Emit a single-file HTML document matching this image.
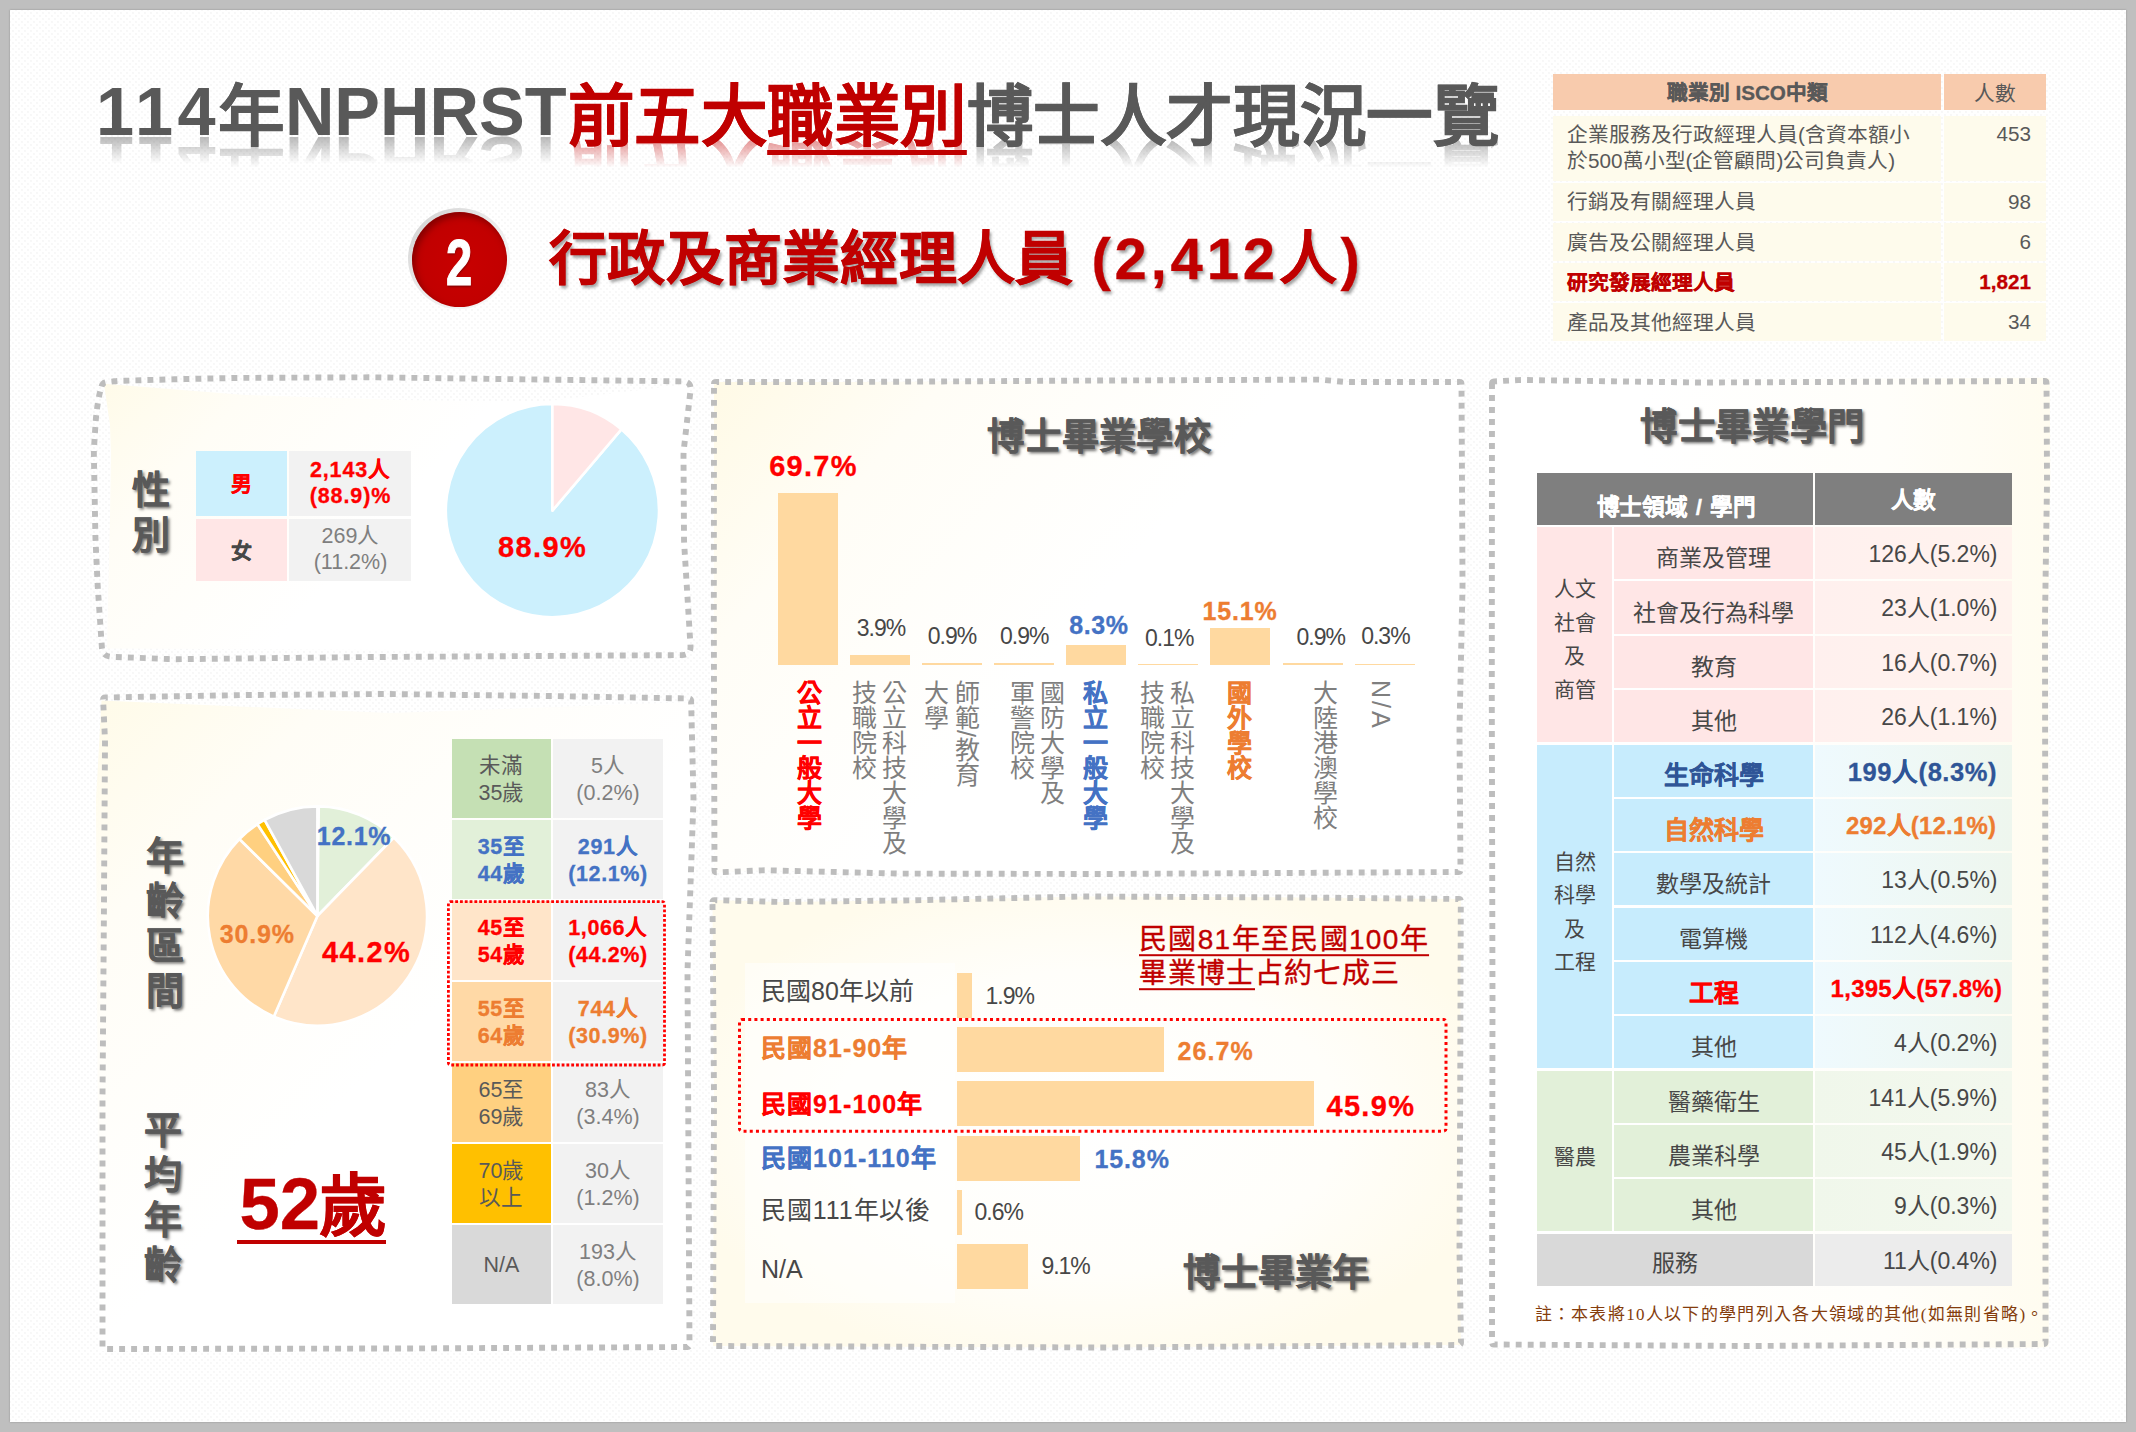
<!DOCTYPE html>
<html lang="zh-TW"><head><meta charset="utf-8"><title>114年NPHRST前五大職業別博士人才現況一覽</title>
<style>
html,body{margin:0;padding:0;}
body{width:2136px;height:1432px;overflow:hidden;background:#bfbfbf;font-family:"Liberation Sans",sans-serif;position:relative;}
#page{position:absolute;left:10px;top:10px;width:2116px;height:1412px;background-color:#fff;
 background-image:radial-gradient(#efefef 0.55px,rgba(255,255,255,0) 0.85px),radial-gradient(#efefef 0.55px,rgba(255,255,255,0) 0.85px);
 background-size:6px 6px;background-position:0 0,3px 3px;box-shadow:0 0 2px rgba(0,0,0,.25);}
#c{position:absolute;left:0;top:0;width:2136px;height:1432px;}
.t{position:absolute;white-space:nowrap;line-height:1.2;text-align:center;}
.r{position:absolute;}
.sh{text-shadow:2px 2px 3px rgba(0,0,0,.55);}
.b{font-weight:bold;}
svg{position:absolute;left:0;top:0;overflow:visible;}
.v{position:absolute;writing-mode:vertical-rl;white-space:nowrap;font-size:25px;line-height:30.2px;color:#7f7f7f;}
.tl{display:inline-block;position:relative;top:-2.3px;font-size:68.5px;line-height:48.5px;-webkit-box-reflect:below 0px linear-gradient(rgba(0,0,0,0) 42%,rgba(0,0,0,.45));}
.tc{display:inline-block;position:relative;top:2.9px;font-size:66.6px;line-height:46px;letter-spacing:-0.45px;-webkit-text-stroke:0.35px currentColor;-webkit-box-reflect:below 0px linear-gradient(rgba(0,0,0,0) 40%,rgba(0,0,0,.42));}
</style></head><body><div id="page"></div><div id="c">
<div id="title" style="position:absolute;left:96px;top:72px;white-space:nowrap;font-weight:bold;color:#595959;font-size:66px;line-height:84px;"><span class="tl" style="letter-spacing:4.6px;">114</span><span class="tc" style="margin-left:-2.5px;">年</span><span class="tl" style="letter-spacing:0px;margin-left:0.5px;">NPHRST</span><span class="tc" style="color:#c00000;margin-left:1px;">前五大<span style="text-decoration:underline;text-decoration-thickness:4.5px;text-underline-offset:10px;">職業別</span></span><span class="tc" style="margin-left:0px;">博士人才現況一覽</span></div><div class="r" style="left:408px;top:208px;width:102px;height:101px;border-radius:50%;background:linear-gradient(135deg,#cfcfcf,#ececec 50%,#fafafa);"></div><div class="r" style="left:411.6px;top:211.6px;width:95.6px;height:95.6px;border-radius:50%;background:radial-gradient(circle at 55% 55%,#c80000 0%,#c00000 70%,#a80000 100%);box-shadow:inset 3px 4px 6px rgba(90,0,0,.55);"></div><div class="t " style="left:459.4px;top:262.8px;font-size:65.5px;color:#fff;font-weight:bold;transform:translate(-50%,-50%);-webkit-text-stroke:1.2px #fff;transform:translate(-50%,-50%) scaleX(.72);text-shadow:1px 2px 2px rgba(80,0,0,.5);">2</div><div class="t " style="left:549px;top:258.5px;font-size:58px;color:#c00000;font-weight:bold;transform:translate(0,-50%);text-shadow:2px 3px 3px rgba(0,0,0,.35);letter-spacing:0.3px;-webkit-text-stroke:0.5px currentColor;">行政及商業經理人員</div><div class="t " style="left:1091.5px;top:258.5px;font-size:58px;color:#c00000;font-weight:bold;transform:translate(0,-50%);text-shadow:2px 3px 3px rgba(0,0,0,.35);letter-spacing:3.8px;-webkit-text-stroke:.3px currentColor;">(2,412人)</div><div class="r" style="left:1553.40px;top:74.00px;width:387.80px;height:36.00px;background:#f8cbad;"></div><div class="r" style="left:1943.80px;top:74.00px;width:102.00px;height:36.00px;background:#f8cbad;"></div><div class="t " style="left:1747.3000000000002px;top:93px;font-size:20.7px;color:#595959;font-weight:bold;transform:translate(-50%,-50%);-webkit-text-stroke:.3px currentColor;">職業別 ISCO中類</div><div class="t " style="left:1994.8px;top:94px;font-size:20.7px;color:#595959;font-weight:normal;transform:translate(-50%,-50%);">人數</div><div class="r" style="left:1553.40px;top:116.00px;width:387.80px;height:64.50px;background:#fefbec;"></div><div class="r" style="left:1943.80px;top:116.00px;width:102.00px;height:64.50px;background:#fefbec;"></div><div class="t " style="left:1567px;top:147.5px;font-size:20.7px;color:#595959;font-weight:normal;transform:translate(0,-50%);text-align:left;line-height:26px;">企業服務及行政經理人員(含資本額小<br>於500萬小型(企管顧問)公司負責人)</div><div class="t " style="left:2031px;top:134px;font-size:20.7px;color:#595959;font-weight:normal;transform:translate(-100%,-50%);">453</div><div class="r" style="left:1553.40px;top:183.10px;width:387.80px;height:37.60px;background:#fefbec;"></div><div class="r" style="left:1943.80px;top:183.10px;width:102.00px;height:37.60px;background:#fefbec;"></div><div class="t " style="left:1567px;top:202.4px;font-size:20.7px;color:#595959;font-weight:normal;transform:translate(0,-50%);">行銷及有關經理人員</div><div class="t " style="left:2031px;top:201.9px;font-size:20.7px;color:#595959;font-weight:normal;transform:translate(-100%,-50%);">98</div><div class="r" style="left:1553.40px;top:223.20px;width:387.80px;height:37.60px;background:#fefbec;"></div><div class="r" style="left:1943.80px;top:223.20px;width:102.00px;height:37.60px;background:#fefbec;"></div><div class="t " style="left:1567px;top:242.5px;font-size:20.7px;color:#595959;font-weight:normal;transform:translate(0,-50%);">廣告及公關經理人員</div><div class="t " style="left:2031px;top:242.0px;font-size:20.7px;color:#595959;font-weight:normal;transform:translate(-100%,-50%);">6</div><div class="r" style="left:1553.40px;top:263.30px;width:387.80px;height:37.60px;background:#fefbec;"></div><div class="r" style="left:1943.80px;top:263.30px;width:102.00px;height:37.60px;background:#fefbec;"></div><div class="t " style="left:1567px;top:282.6px;font-size:20.7px;color:#c00000;font-weight:bold;transform:translate(0,-50%);-webkit-text-stroke:.3px currentColor;">研究發展經理人員</div><div class="t " style="left:2031px;top:282.1px;font-size:20.7px;color:#c00000;font-weight:bold;transform:translate(-100%,-50%);-webkit-text-stroke:.3px currentColor;">1,821</div><div class="r" style="left:1553.40px;top:303.40px;width:387.80px;height:37.40px;background:#fefbec;"></div><div class="r" style="left:1943.80px;top:303.40px;width:102.00px;height:37.40px;background:#fefbec;"></div><div class="t " style="left:1567px;top:322.59999999999997px;font-size:20.7px;color:#595959;font-weight:normal;transform:translate(0,-50%);">產品及其他經理人員</div><div class="t " style="left:2031px;top:322.09999999999997px;font-size:20.7px;color:#595959;font-weight:normal;transform:translate(-100%,-50%);">34</div><svg width="2136" height="1432" viewBox="0 0 2136 1432"><defs>
<linearGradient id="g1" gradientUnits="userSpaceOnUse" x1="100" y1="385" x2="380" y2="640"><stop offset="0" stop-color="#fffbe9"/><stop offset=".3" stop-color="#fffdf6"/><stop offset=".8" stop-color="#ffffff"/></linearGradient>
<linearGradient id="g2" gradientUnits="userSpaceOnUse" x1="100" y1="700" x2="480" y2="1080"><stop offset="0" stop-color="#fffbe9"/><stop offset=".3" stop-color="#fffdf6"/><stop offset=".85" stop-color="#ffffff"/></linearGradient>
<linearGradient id="g3" gradientUnits="userSpaceOnUse" x1="715" y1="385" x2="1150" y2="760"><stop offset="0" stop-color="#fffae6"/><stop offset=".3" stop-color="#fffdf6"/><stop offset=".75" stop-color="#ffffff"/></linearGradient>
<radialGradient id="g4" gradientUnits="userSpaceOnUse" cx="1087" cy="1122" r="420" gradientTransform="translate(1087 1122) scale(1 .6) translate(-1087 -1122)"><stop offset="0" stop-color="#ffffff"/><stop offset=".6" stop-color="#fffefa"/><stop offset="1" stop-color="#fffbec"/></radialGradient>
<linearGradient id="g5" gradientUnits="userSpaceOnUse" x1="1640" y1="860" x2="2048" y2="860"><stop offset="0" stop-color="#ffffff"/><stop offset=".6" stop-color="#fffefa"/><stop offset="1" stop-color="#fffcf0"/></linearGradient>
</defs><path d="M104.0,383.7L245.0,395.0L400.0,400.0L540.0,402.0L690.0,384.0L690.0,650.0L400.0,650.0L107.0,648.5L110.0,517.0L111.0,454.0L110.0,425.0Z" fill="url(#g1)"/><path d="M101.5,700.5L390.0,713.0L692.0,702.0L692.0,1350.0L99.0,1351.0L96.0,800.0Z" fill="url(#g2)"/><path d="M714.0,382.0L850.0,382.0L1065.0,380.7L1320.0,379.6L1345.0,382.0L1461.5,382.0L1462.5,585.0L1459.5,730.0L1460.5,872.0L1100.0,874.0L900.0,873.6L764.0,870.3L714.5,872.5L713.8,620.0Z" fill="url(#g3)"/><path d="M712.5,900.0L780.0,902.0L900.0,900.5L1085.0,896.5L1300.0,897.5L1460.8,899.0L1460.2,1100.0L1459.5,1250.0L1461.0,1345.0L1100.0,1347.5L713.0,1346.0L714.0,1100.0Z" fill="url(#g4)"/><path d="M1492.0,381.5L1520.0,380.0L1700.0,382.5L2046.5,381.0L2047.0,480.0L2045.0,620.0L2045.4,985.0L2045.5,1344.0L1750.0,1346.0L1492.0,1344.5L1492.5,1000.0L1491.8,700.0Z" fill="url(#g5)" stroke="url(#g5)" stroke-width="6.6" stroke-linejoin="round"/><path d="M101.5,386.4Q102.5,382.5 106.5,382.1L114.0,381.3Q118.0,380.9 122.0,380.8L174.0,379.3Q178.0,379.2 182.0,379.1L234.0,378.0Q238.0,377.9 242.0,377.9L371.0,377.3Q375.0,377.3 379.0,377.4L682.5,381.4Q691.5,381.5 690.5,390.4L684.0,448.0Q683.5,452.0 683.5,456.0L684.0,536.0Q684.0,540.0 684.2,544.0L690.5,646.0Q691.0,655.0 682.0,655.1L379.0,657.0Q375.0,657.0 371.0,657.0L176.0,659.2Q172.0,659.2 168.0,659.0L111.5,656.8Q102.5,656.5 101.9,647.5L98.1,592.0Q97.8,588.0 97.6,584.0L95.7,544.0Q95.5,540.0 95.4,536.0L93.9,456.0Q93.8,452.0 94.0,448.0L95.5,424.6Q95.7,420.6 96.1,416.6L96.6,412.6Q97.0,408.6 97.6,404.6L98.3,400.4Q98.9,396.4 99.9,392.5Z" fill="none" stroke="#bdbdbd" stroke-width="5.9" stroke-dasharray="5.9 6.1"/><path d="M103.1,699.5Q103.0,697.5 105.0,697.5L248.0,695.0Q250.0,695.0 252.0,695.0L383.0,694.0Q385.0,694.0 387.0,694.0L548.0,696.0Q550.0,696.0 552.0,696.0L689.0,698.5Q691.0,698.5 691.1,700.5L691.4,713.0Q691.5,715.0 691.5,717.0L693.5,798.0Q693.5,800.0 693.4,802.0L687.6,968.0Q687.5,970.0 687.5,972.0L689.5,1345.0Q689.5,1347.0 687.5,1347.0L402.0,1348.5Q400.0,1348.5 398.0,1348.5L104.5,1349.0Q102.5,1349.0 102.5,1347.0L102.5,1102.0Q102.5,1100.0 102.5,1098.0L104.0,902.0Q104.0,900.0 104.0,898.0L105.0,742.0Q105.0,740.0 104.9,738.0Z" fill="none" stroke="#bdbdbd" stroke-width="5.9" stroke-dasharray="5.9 6.1"/><path d="M714.0,384.0Q714.0,382.0 716.0,382.0L848.0,382.0Q850.0,382.0 852.0,382.0L1063.0,380.7Q1065.0,380.7 1067.0,380.7L1318.0,379.6Q1320.0,379.6 1322.0,379.8L1343.0,381.8Q1345.0,382.0 1347.0,382.0L1459.5,382.0Q1461.5,382.0 1461.5,384.0L1462.5,583.0Q1462.5,585.0 1462.5,587.0L1459.5,728.0Q1459.5,730.0 1459.5,732.0L1460.5,870.0Q1460.5,872.0 1458.5,872.0L1102.0,874.0Q1100.0,874.0 1098.0,874.0L902.0,873.6Q900.0,873.6 898.0,873.6L766.0,870.3Q764.0,870.3 762.0,870.4L716.5,872.4Q714.5,872.5 714.5,870.5L713.8,622.0Q713.8,620.0 713.8,618.0Z" fill="none" stroke="#bdbdbd" stroke-width="5.9" stroke-dasharray="5.9 6.1"/><path d="M712.5,902.0Q712.5,900.0 714.5,900.1L778.0,901.9Q780.0,902.0 782.0,902.0L898.0,900.5Q900.0,900.5 902.0,900.5L1083.0,896.5Q1085.0,896.5 1087.0,896.5L1298.0,897.5Q1300.0,897.5 1302.0,897.5L1458.8,899.0Q1460.8,899.0 1460.8,901.0L1460.2,1098.0Q1460.2,1100.0 1460.2,1102.0L1459.5,1248.0Q1459.5,1250.0 1459.5,1252.0L1461.0,1343.0Q1461.0,1345.0 1459.0,1345.0L1102.0,1347.5Q1100.0,1347.5 1098.0,1347.5L715.0,1346.0Q713.0,1346.0 713.0,1344.0L714.0,1102.0Q714.0,1100.0 714.0,1098.0Z" fill="none" stroke="#bdbdbd" stroke-width="5.9" stroke-dasharray="5.9 6.1"/><path d="M1492.0,383.5Q1492.0,381.5 1494.0,381.4L1518.0,380.1Q1520.0,380.0 1522.0,380.0L1698.0,382.5Q1700.0,382.5 1702.0,382.5L2044.5,381.0Q2046.5,381.0 2046.5,383.0L2047.0,478.0Q2047.0,480.0 2047.0,482.0L2045.0,618.0Q2045.0,620.0 2045.0,622.0L2045.4,983.0Q2045.4,985.0 2045.4,987.0L2045.5,1342.0Q2045.5,1344.0 2043.5,1344.0L1752.0,1346.0Q1750.0,1346.0 1748.0,1346.0L1494.0,1344.5Q1492.0,1344.5 1492.0,1342.5L1492.5,1002.0Q1492.5,1000.0 1492.5,998.0L1491.8,702.0Q1491.8,700.0 1491.8,698.0Z" fill="none" stroke="#bdbdbd" stroke-width="5.9" stroke-dasharray="5.9 6.1"/><path d="M552.40,510.60L621.38,429.32A106.6,106.6 0 1 1 552.40,404.00Z" fill="#ccf0fd" stroke="#fff" stroke-width="2.6" stroke-linejoin="round"/><path d="M552.40,510.60L552.40,404.00A106.6,106.6 0 0 1 621.38,429.32Z" fill="#ffe6e6" stroke="#fff" stroke-width="2.6" stroke-linejoin="round"/><path d="M317.40,916.00L317.40,806.40A109.6,109.6 0 0 1 318.78,806.41Z" fill="#c5e0b4" stroke="#fff" stroke-width="2.6" stroke-linejoin="round"/><path d="M317.40,916.00L318.78,806.41A109.6,109.6 0 0 1 393.92,837.53Z" fill="#e2f0d9" stroke="#fff" stroke-width="2.6" stroke-linejoin="round"/><path d="M317.40,916.00L393.92,837.53A109.6,109.6 0 0 1 273.87,1016.59Z" fill="#ffe5c9" stroke="#fff" stroke-width="2.6" stroke-linejoin="round"/><path d="M317.40,916.00L273.87,1016.59A109.6,109.6 0 0 1 239.42,838.99Z" fill="#ffd9a6" stroke="#fff" stroke-width="2.6" stroke-linejoin="round"/><path d="M317.40,916.00L239.42,838.99A109.6,109.6 0 0 1 257.52,824.21Z" fill="#ffd080" stroke="#fff" stroke-width="2.6" stroke-linejoin="round"/><path d="M317.40,916.00L257.52,824.21A109.6,109.6 0 0 1 264.60,819.96Z" fill="#ffc000" stroke="#fff" stroke-width="2.6" stroke-linejoin="round"/><path d="M317.40,916.00L264.60,819.96A109.6,109.6 0 0 1 317.40,806.40Z" fill="#d9d9d9" stroke="#fff" stroke-width="2.6" stroke-linejoin="round"/></svg><div class="t sh" style="left:151px;top:491px;font-size:38px;color:#595959;font-weight:bold;transform:translate(-50%,-50%);-webkit-text-stroke:.3px currentColor;">性</div><div class="t sh" style="left:151px;top:536px;font-size:38px;color:#595959;font-weight:bold;transform:translate(-50%,-50%);-webkit-text-stroke:.3px currentColor;">別</div><div class="r" style="left:196.00px;top:451.00px;width:91.00px;height:65.00px;background:#ccf0fd;"></div><div class="r" style="left:289.30px;top:451.00px;width:122.00px;height:65.00px;background:#f2f2f2;"></div><div class="r" style="left:196.00px;top:518.80px;width:91.00px;height:62.40px;background:#ffe6e6;"></div><div class="r" style="left:289.30px;top:518.80px;width:122.00px;height:62.40px;background:#f2f2f2;"></div><div class="t " style="left:241.5px;top:484px;font-size:21px;color:#ff0000;font-weight:bold;transform:translate(-50%,-50%);-webkit-text-stroke:.3px currentColor;">男</div><div class="t " style="left:241.5px;top:550.5px;font-size:21px;color:#474747;font-weight:bold;transform:translate(-50%,-50%);-webkit-text-stroke:.3px currentColor;">女</div><div class="t " style="left:350.5px;top:484px;font-size:21.5px;color:#ff0000;font-weight:bold;transform:translate(-50%,-50%);line-height:25.8px;letter-spacing:.9px;-webkit-text-stroke:.3px currentColor;">2,143人<br>(88.9)%</div><div class="t " style="left:350.5px;top:550px;font-size:21.5px;color:#7f7f7f;font-weight:normal;transform:translate(-50%,-50%);line-height:25.8px;">269人<br>(11.2%)</div><div class="t " style="left:542.5px;top:546.5px;font-size:29px;color:#ff0000;font-weight:bold;transform:translate(-50%,-50%);letter-spacing:1.4px;-webkit-text-stroke:.3px currentColor;">88.9%</div><div class="t sh" style="left:164.5px;top:857px;font-size:38px;color:#595959;font-weight:bold;transform:translate(-50%,-50%);-webkit-text-stroke:.3px currentColor;">年</div><div class="t sh" style="left:164.5px;top:902px;font-size:38px;color:#595959;font-weight:bold;transform:translate(-50%,-50%);-webkit-text-stroke:.3px currentColor;">齡</div><div class="t sh" style="left:164.5px;top:947px;font-size:38px;color:#595959;font-weight:bold;transform:translate(-50%,-50%);-webkit-text-stroke:.3px currentColor;">區</div><div class="t sh" style="left:164.5px;top:992px;font-size:38px;color:#595959;font-weight:bold;transform:translate(-50%,-50%);-webkit-text-stroke:.3px currentColor;">間</div><div class="t sh" style="left:162.5px;top:1130.5px;font-size:38px;color:#595959;font-weight:bold;transform:translate(-50%,-50%);-webkit-text-stroke:.3px currentColor;">平</div><div class="t sh" style="left:162.5px;top:1175.5px;font-size:38px;color:#595959;font-weight:bold;transform:translate(-50%,-50%);-webkit-text-stroke:.3px currentColor;">均</div><div class="t sh" style="left:162.5px;top:1220.5px;font-size:38px;color:#595959;font-weight:bold;transform:translate(-50%,-50%);-webkit-text-stroke:.3px currentColor;">年</div><div class="t sh" style="left:162.5px;top:1265.5px;font-size:38px;color:#595959;font-weight:bold;transform:translate(-50%,-50%);-webkit-text-stroke:.3px currentColor;">齡</div><div class="t " style="left:354px;top:836px;font-size:25px;color:#4472c4;font-weight:bold;transform:translate(-50%,-50%);letter-spacing:.7px;-webkit-text-stroke:.3px currentColor;">12.1%</div><div class="t " style="left:366.5px;top:952px;font-size:29px;color:#ff0000;font-weight:bold;transform:translate(-50%,-50%);letter-spacing:1.4px;-webkit-text-stroke:.3px currentColor;">44.2%</div><div class="t " style="left:257.3px;top:933.5px;font-size:25px;color:#ed7d31;font-weight:bold;transform:translate(-50%,-50%);letter-spacing:.8px;-webkit-text-stroke:.3px currentColor;">30.9%</div><div class="t " style="left:239.5px;top:1203.6px;font-size:72.5px;color:#c00000;font-weight:bold;transform:translate(0,-50%);line-height:80px;-webkit-text-stroke:.3px currentColor;">52<span style="font-size:68px;position:relative;top:1.5px;margin-left:-1px;">歲</span></div><div class="r" style="left:237.00px;top:1240.00px;width:149.30px;height:4.00px;background:#c00000;"></div><div class="r" style="left:452.00px;top:739.40px;width:99.00px;height:78.80px;background:#c5e0b4;"></div><div class="r" style="left:552.80px;top:739.40px;width:110.20px;height:78.80px;background:#f2f2f2;"></div><div class="t " style="left:501.5px;top:779.4px;font-size:21.5px;color:#595959;font-weight:normal;transform:translate(-50%,-50%);line-height:26.2px;">未滿<br>35歲</div><div class="t " style="left:608px;top:779.4px;font-size:21.5px;color:#7f7f7f;font-weight:normal;transform:translate(-50%,-50%);line-height:26.2px;">5人<br>(0.2%)</div><div class="r" style="left:452.00px;top:820.40px;width:99.00px;height:78.80px;background:#e2f0d9;"></div><div class="r" style="left:552.80px;top:820.40px;width:110.20px;height:78.80px;background:#f2f2f2;"></div><div class="t " style="left:501.5px;top:860.4px;font-size:21.5px;color:#4472c4;font-weight:bold;transform:translate(-50%,-50%);line-height:26.2px;letter-spacing:.6px;-webkit-text-stroke:.3px currentColor;">35至<br>44歲</div><div class="t " style="left:608px;top:860.4px;font-size:21.5px;color:#4472c4;font-weight:bold;transform:translate(-50%,-50%);line-height:26.2px;letter-spacing:.6px;-webkit-text-stroke:.3px currentColor;">291人<br>(12.1%)</div><div class="r" style="left:452.00px;top:901.40px;width:99.00px;height:78.80px;background:#ffe5c9;"></div><div class="r" style="left:552.80px;top:901.40px;width:110.20px;height:78.80px;background:#f2f2f2;"></div><div class="t " style="left:501.5px;top:941.4px;font-size:21.5px;color:#ff0000;font-weight:bold;transform:translate(-50%,-50%);line-height:26.2px;letter-spacing:.6px;-webkit-text-stroke:.3px currentColor;">45至<br>54歲</div><div class="t " style="left:608px;top:941.4px;font-size:21.5px;color:#ff0000;font-weight:bold;transform:translate(-50%,-50%);line-height:26.2px;letter-spacing:.6px;-webkit-text-stroke:.3px currentColor;">1,066人<br>(44.2%)</div><div class="r" style="left:452.00px;top:982.40px;width:99.00px;height:78.80px;background:#ffd9a6;"></div><div class="r" style="left:552.80px;top:982.40px;width:110.20px;height:78.80px;background:#f2f2f2;"></div><div class="t " style="left:501.5px;top:1022.4px;font-size:21.5px;color:#ed7d31;font-weight:bold;transform:translate(-50%,-50%);line-height:26.2px;letter-spacing:.6px;-webkit-text-stroke:.3px currentColor;">55至<br>64歲</div><div class="t " style="left:608px;top:1022.4px;font-size:21.5px;color:#ed7d31;font-weight:bold;transform:translate(-50%,-50%);line-height:26.2px;letter-spacing:.6px;-webkit-text-stroke:.3px currentColor;">744人<br>(30.9%)</div><div class="r" style="left:452.00px;top:1063.40px;width:99.00px;height:78.80px;background:#ffd080;"></div><div class="r" style="left:552.80px;top:1063.40px;width:110.20px;height:78.80px;background:#f2f2f2;"></div><div class="t " style="left:501.5px;top:1103.4px;font-size:21.5px;color:#595959;font-weight:normal;transform:translate(-50%,-50%);line-height:26.2px;">65至<br>69歲</div><div class="t " style="left:608px;top:1103.4px;font-size:21.5px;color:#7f7f7f;font-weight:normal;transform:translate(-50%,-50%);line-height:26.2px;">83人<br>(3.4%)</div><div class="r" style="left:452.00px;top:1144.40px;width:99.00px;height:78.80px;background:#ffc000;"></div><div class="r" style="left:552.80px;top:1144.40px;width:110.20px;height:78.80px;background:#f2f2f2;"></div><div class="t " style="left:501.5px;top:1184.4px;font-size:21.5px;color:#595959;font-weight:normal;transform:translate(-50%,-50%);line-height:26.2px;">70歲<br>以上</div><div class="t " style="left:608px;top:1184.4px;font-size:21.5px;color:#7f7f7f;font-weight:normal;transform:translate(-50%,-50%);line-height:26.2px;">30人<br>(1.2%)</div><div class="r" style="left:452.00px;top:1225.40px;width:99.00px;height:78.80px;background:#d9d9d9;"></div><div class="r" style="left:552.80px;top:1225.40px;width:110.20px;height:78.80px;background:#f2f2f2;"></div><div class="t " style="left:501.5px;top:1265.4px;font-size:21.5px;color:#595959;font-weight:normal;transform:translate(-50%,-50%);line-height:26.2px;">N/A</div><div class="t " style="left:608px;top:1265.4px;font-size:21.5px;color:#7f7f7f;font-weight:normal;transform:translate(-50%,-50%);line-height:26.2px;">193人<br>(8.0%)</div><div class="t sh" style="left:1099px;top:436.5px;font-size:37.4px;color:#595959;font-weight:bold;transform:translate(-50%,-50%);letter-spacing:.4px;-webkit-text-stroke:.3px currentColor;">博士畢業學校</div><div class="r" style="left:777.80px;top:492.98px;width:60.00px;height:172.02px;background:#ffd9a0;"></div><div class="r" style="left:849.90px;top:655.37px;width:60.00px;height:9.63px;background:#ffd9a0;"></div><div class="r" style="left:922.00px;top:662.78px;width:60.00px;height:2.22px;background:#ffd9a0;"></div><div class="r" style="left:994.10px;top:662.78px;width:60.00px;height:2.22px;background:#ffd9a0;"></div><div class="r" style="left:1066.20px;top:644.52px;width:60.00px;height:20.48px;background:#ffd9a0;"></div><div class="r" style="left:1138.30px;top:663.80px;width:60.00px;height:1.20px;background:#ffd9a0;"></div><div class="r" style="left:1210.40px;top:627.73px;width:60.00px;height:37.27px;background:#ffd9a0;"></div><div class="r" style="left:1282.50px;top:662.78px;width:60.00px;height:2.22px;background:#ffd9a0;"></div><div class="r" style="left:1354.60px;top:663.80px;width:60.00px;height:1.20px;background:#ffd9a0;"></div><div class="t " style="left:813.5px;top:466px;font-size:29px;color:#ff0000;font-weight:bold;transform:translate(-50%,-50%);letter-spacing:1.3px;-webkit-text-stroke:.3px currentColor;">69.7%</div><div class="t " style="left:881px;top:628.5px;font-size:23px;color:#474747;font-weight:normal;transform:translate(-50%,-50%);letter-spacing:-1px;">3.9%</div><div class="t " style="left:952px;top:636.5px;font-size:23px;color:#474747;font-weight:normal;transform:translate(-50%,-50%);letter-spacing:-1px;">0.9%</div><div class="t " style="left:1024.3px;top:636.5px;font-size:23px;color:#474747;font-weight:normal;transform:translate(-50%,-50%);letter-spacing:-1px;">0.9%</div><div class="t " style="left:1099px;top:625px;font-size:25px;color:#4472c4;font-weight:bold;transform:translate(-50%,-50%);letter-spacing:.6px;-webkit-text-stroke:.3px currentColor;">8.3%</div><div class="t " style="left:1169.2px;top:638.5px;font-size:23px;color:#474747;font-weight:normal;transform:translate(-50%,-50%);letter-spacing:-1px;">0.1%</div><div class="t " style="left:1240px;top:610.5px;font-size:25px;color:#ed7d31;font-weight:bold;transform:translate(-50%,-50%);letter-spacing:.8px;-webkit-text-stroke:.3px currentColor;">15.1%</div><div class="t " style="left:1320.8px;top:638px;font-size:23px;color:#474747;font-weight:normal;transform:translate(-50%,-50%);letter-spacing:-1px;">0.9%</div><div class="t " style="left:1385.4px;top:637px;font-size:23px;color:#474747;font-weight:normal;transform:translate(-50%,-50%);letter-spacing:-1px;">0.3%</div><div class="v" style="left:792.4px;top:679.5px;color:#ff0000;font-weight:bold;-webkit-text-stroke:.35px currentColor;">公立一般大學</div><div class="v" style="left:848.0px;top:679.5px;color:#7f7f7f;font-weight:normal;">公立科技大學及<br>技職院校</div><div class="v" style="left:920.1px;top:679.5px;color:#7f7f7f;font-weight:normal;">師範/教育<br>大學</div><div class="v" style="left:1005.9px;top:679.5px;color:#7f7f7f;font-weight:normal;">國防大學及<br>軍警院校</div><div class="v" style="left:1079.1px;top:679.5px;color:#4472c4;font-weight:bold;-webkit-text-stroke:.35px currentColor;">私立一般大學</div><div class="v" style="left:1135.4px;top:679.5px;color:#7f7f7f;font-weight:normal;">私立科技大學及<br>技職院校</div><div class="v" style="left:1222.9px;top:679.5px;color:#ed7d31;font-weight:bold;-webkit-text-stroke:.35px currentColor;">國外學校</div><div class="v" style="left:1308.8px;top:679.5px;color:#7f7f7f;font-weight:normal;">大陸港澳學校</div><div class="v" style="left:1365.9px;top:679.5px;color:#7f7f7f;font-weight:normal;"><span style="letter-spacing:3px;">N/A</span></div><div class="r" style="left:744.50px;top:963.00px;width:210.00px;height:340.00px;background:rgba(255,255,255,.55);"></div><div class="r" style="left:957.10px;top:973.00px;width:14.75px;height:45.00px;background:#ffd9a0;"></div><div class="t " style="left:761px;top:990.6px;font-size:25px;color:#474747;font-weight:normal;transform:translate(0,-50%);">民國80年以前</div><div class="r" style="left:957.10px;top:1027.20px;width:207.33px;height:45.00px;background:#ffd9a0;"></div><div class="t " style="left:761px;top:1048px;font-size:25px;color:#ed7d31;font-weight:bold;transform:translate(0,-50%);letter-spacing:1.05px;-webkit-text-stroke:.3px currentColor;">民國81-90年</div><div class="r" style="left:957.10px;top:1081.40px;width:356.41px;height:45.00px;background:#ffd9a0;"></div><div class="t " style="left:761px;top:1103.5px;font-size:25px;color:#ff0000;font-weight:bold;transform:translate(0,-50%);letter-spacing:1.05px;-webkit-text-stroke:.3px currentColor;">民國91-100年</div><div class="r" style="left:957.10px;top:1135.60px;width:122.69px;height:45.00px;background:#ffd9a0;"></div><div class="t " style="left:761px;top:1157.5px;font-size:25px;color:#4472c4;font-weight:bold;transform:translate(0,-50%);letter-spacing:1.05px;-webkit-text-stroke:.3px currentColor;">民國101-110年</div><div class="r" style="left:957.10px;top:1189.80px;width:4.66px;height:45.00px;background:#ffd9a0;"></div><div class="t " style="left:761px;top:1209.7px;font-size:25px;color:#474747;font-weight:normal;transform:translate(0,-50%);letter-spacing:.9px;">民國111年以後</div><div class="r" style="left:957.10px;top:1244.00px;width:70.66px;height:45.00px;background:#ffd9a0;"></div><div class="t " style="left:761px;top:1268.9px;font-size:25px;color:#474747;font-weight:normal;transform:translate(0,-50%);">N/A</div><div class="t " style="left:985.5px;top:997px;font-size:23px;color:#474747;font-weight:normal;transform:translate(0,-50%);letter-spacing:-1px;">1.9%</div><div class="t " style="left:1177.5px;top:1051px;font-size:25px;color:#ed7d31;font-weight:bold;transform:translate(0,-50%);letter-spacing:1.1px;-webkit-text-stroke:.3px currentColor;">26.7%</div><div class="t " style="left:1326.5px;top:1105.7px;font-size:29px;color:#ff0000;font-weight:bold;transform:translate(0,-50%);letter-spacing:1.3px;-webkit-text-stroke:.3px currentColor;">45.9%</div><div class="t " style="left:1094.4px;top:1158.6px;font-size:25px;color:#4472c4;font-weight:bold;transform:translate(0,-50%);letter-spacing:.9px;-webkit-text-stroke:.3px currentColor;">15.8%</div><div class="t " style="left:974.5px;top:1213px;font-size:23px;color:#474747;font-weight:normal;transform:translate(0,-50%);letter-spacing:-1px;">0.6%</div><div class="t " style="left:1041.4px;top:1267px;font-size:23px;color:#474747;font-weight:normal;transform:translate(0,-50%);letter-spacing:-1px;">9.1%</div><div class="t " style="left:1139px;top:940.3px;font-size:28px;color:#c00000;font-weight:normal;transform:translate(0,-50%);letter-spacing:1.35px;-webkit-text-stroke:.35px currentColor;"><span style="text-decoration:underline;text-decoration-thickness:2px;text-underline-offset:5px;">民國81年至民國100年</span></div><div class="t " style="left:1139px;top:974.2px;font-size:28px;color:#c00000;font-weight:normal;transform:translate(0,-50%);letter-spacing:1px;-webkit-text-stroke:.35px currentColor;"><span style="text-decoration:underline;text-decoration-thickness:2px;text-underline-offset:5px;">畢業博士</span>占約七成三</div><div class="t sh" style="left:1276.5px;top:1272.5px;font-size:37.4px;color:#595959;font-weight:bold;transform:translate(-50%,-50%);letter-spacing:.25px;-webkit-text-stroke:.3px currentColor;">博士畢業年</div><div class="t sh" style="left:1752.5px;top:426.5px;font-size:37.4px;color:#595959;font-weight:bold;transform:translate(-50%,-50%);letter-spacing:.4px;-webkit-text-stroke:.3px currentColor;">博士畢業學門</div><div class="r" style="left:1537.20px;top:472.90px;width:275.60px;height:51.80px;background:#7f7f7f;"></div><div class="r" style="left:1815.20px;top:472.90px;width:196.60px;height:51.80px;background:#7f7f7f;"></div><div class="t " style="left:1676.0px;top:508.3px;font-size:22.6px;color:#fff;font-weight:bold;transform:translate(-50%,-50%);letter-spacing:-.35px;word-spacing:2.5px;-webkit-text-stroke:.3px currentColor;">博士領域 / 學門</div><div class="t " style="left:1913.5px;top:500.5px;font-size:22.6px;color:#fff;font-weight:bold;transform:translate(-50%,-50%);letter-spacing:-.35px;-webkit-text-stroke:.3px currentColor;">人數</div><div class="r" style="left:1614.20px;top:527.10px;width:198.60px;height:52.20px;background:#ffe6e6;"></div><div class="r" style="left:1815.20px;top:527.10px;width:196.60px;height:52.20px;background:linear-gradient(90deg,#fff0ee,#fff3ee);"></div><div class="t " style="left:1713.5px;top:559.2px;font-size:23px;color:#474747;font-weight:normal;transform:translate(-50%,-50%);">商業及管理</div><div class="t " style="left:1997.5px;top:555.1px;font-size:23px;color:#474747;font-weight:normal;transform:translate(-100%,-50%);">126人(5.2%)</div><div class="r" style="left:1614.20px;top:581.45px;width:198.60px;height:52.20px;background:#ffe6e6;"></div><div class="r" style="left:1815.20px;top:581.45px;width:196.60px;height:52.20px;background:linear-gradient(90deg,#fff0ee,#fff3ee);"></div><div class="t " style="left:1713.5px;top:613.5500000000001px;font-size:23px;color:#474747;font-weight:normal;transform:translate(-50%,-50%);">社會及行為科學</div><div class="t " style="left:1997.5px;top:609.45px;font-size:23px;color:#474747;font-weight:normal;transform:translate(-100%,-50%);">23人(1.0%)</div><div class="r" style="left:1614.20px;top:635.80px;width:198.60px;height:52.20px;background:#ffe6e6;"></div><div class="r" style="left:1815.20px;top:635.80px;width:196.60px;height:52.20px;background:linear-gradient(90deg,#fff0ee,#fff3ee);"></div><div class="t " style="left:1713.5px;top:667.9000000000001px;font-size:23px;color:#474747;font-weight:normal;transform:translate(-50%,-50%);">教育</div><div class="t " style="left:1997.5px;top:663.8000000000001px;font-size:23px;color:#474747;font-weight:normal;transform:translate(-100%,-50%);">16人(0.7%)</div><div class="r" style="left:1614.20px;top:690.15px;width:198.60px;height:52.20px;background:#ffe6e6;"></div><div class="r" style="left:1815.20px;top:690.15px;width:196.60px;height:52.20px;background:linear-gradient(90deg,#fff0ee,#fff3ee);"></div><div class="t " style="left:1713.5px;top:722.2500000000001px;font-size:23px;color:#474747;font-weight:normal;transform:translate(-50%,-50%);">其他</div><div class="t " style="left:1997.5px;top:718.1500000000001px;font-size:23px;color:#474747;font-weight:normal;transform:translate(-100%,-50%);">26人(1.1%)</div><div class="r" style="left:1614.20px;top:744.50px;width:198.60px;height:52.20px;background:#c7ecfd;"></div><div class="r" style="left:1815.20px;top:744.50px;width:196.60px;height:52.20px;background:linear-gradient(90deg,#effafe,#eef6ee);"></div><div class="t " style="left:1713.5px;top:775.3000000000001px;font-size:25px;color:#2f5597;font-weight:bold;transform:translate(-50%,-50%);-webkit-text-stroke:.3px currentColor;">生命科學</div><div class="t " style="left:1997.0px;top:771.5px;font-size:25.5px;color:#2f5597;font-weight:bold;transform:translate(-100%,-50%);letter-spacing:0.55px;-webkit-text-stroke:.3px currentColor;">199人(8.3%)</div><div class="r" style="left:1614.20px;top:798.85px;width:198.60px;height:52.20px;background:#c7ecfd;"></div><div class="r" style="left:1815.20px;top:798.85px;width:196.60px;height:52.20px;background:linear-gradient(90deg,#effafe,#eef6ee);"></div><div class="t " style="left:1713.5px;top:829.6500000000001px;font-size:25px;color:#ed7d31;font-weight:bold;transform:translate(-50%,-50%);-webkit-text-stroke:.3px currentColor;">自然科學</div><div class="t " style="left:1996.2px;top:825.85px;font-size:24px;color:#ed7d31;font-weight:bold;transform:translate(-100%,-50%);letter-spacing:0.2px;-webkit-text-stroke:.3px currentColor;">292人(12.1%)</div><div class="r" style="left:1614.20px;top:853.20px;width:198.60px;height:52.20px;background:#c7ecfd;"></div><div class="r" style="left:1815.20px;top:853.20px;width:196.60px;height:52.20px;background:linear-gradient(90deg,#effafe,#eef6ee);"></div><div class="t " style="left:1713.5px;top:885.3000000000001px;font-size:23px;color:#474747;font-weight:normal;transform:translate(-50%,-50%);">數學及統計</div><div class="t " style="left:1997.5px;top:881.2px;font-size:23px;color:#474747;font-weight:normal;transform:translate(-100%,-50%);">13人(0.5%)</div><div class="r" style="left:1614.20px;top:907.55px;width:198.60px;height:52.20px;background:#c7ecfd;"></div><div class="r" style="left:1815.20px;top:907.55px;width:196.60px;height:52.20px;background:linear-gradient(90deg,#effafe,#eef6ee);"></div><div class="t " style="left:1713.5px;top:939.65px;font-size:23px;color:#474747;font-weight:normal;transform:translate(-50%,-50%);">電算機</div><div class="t " style="left:1997.5px;top:935.55px;font-size:23px;color:#474747;font-weight:normal;transform:translate(-100%,-50%);">112人(4.6%)</div><div class="r" style="left:1614.20px;top:961.90px;width:198.60px;height:52.20px;background:#c7ecfd;"></div><div class="r" style="left:1815.20px;top:961.90px;width:196.60px;height:52.20px;background:linear-gradient(90deg,#effafe,#eef6ee);"></div><div class="t " style="left:1713.5px;top:992.7000000000002px;font-size:25px;color:#ff0000;font-weight:bold;transform:translate(-50%,-50%);-webkit-text-stroke:.3px currentColor;">工程</div><div class="t " style="left:2002.2px;top:988.9000000000001px;font-size:24px;color:#ff0000;font-weight:bold;transform:translate(-100%,-50%);letter-spacing:0.27px;-webkit-text-stroke:.3px currentColor;">1,395人(57.8%)</div><div class="r" style="left:1614.20px;top:1016.25px;width:198.60px;height:52.20px;background:#c7ecfd;"></div><div class="r" style="left:1815.20px;top:1016.25px;width:196.60px;height:52.20px;background:linear-gradient(90deg,#effafe,#eef6ee);"></div><div class="t " style="left:1713.5px;top:1048.35px;font-size:23px;color:#474747;font-weight:normal;transform:translate(-50%,-50%);">其他</div><div class="t " style="left:1997.5px;top:1044.25px;font-size:23px;color:#474747;font-weight:normal;transform:translate(-100%,-50%);">4人(0.2%)</div><div class="r" style="left:1614.20px;top:1070.60px;width:198.60px;height:52.20px;background:#e2f0d9;"></div><div class="r" style="left:1815.20px;top:1070.60px;width:196.60px;height:52.20px;background:linear-gradient(90deg,#f0f7eb,#f3f8ee);"></div><div class="t " style="left:1713.5px;top:1102.6999999999998px;font-size:23px;color:#474747;font-weight:normal;transform:translate(-50%,-50%);">醫藥衛生</div><div class="t " style="left:1997.5px;top:1098.6px;font-size:23px;color:#474747;font-weight:normal;transform:translate(-100%,-50%);">141人(5.9%)</div><div class="r" style="left:1614.20px;top:1124.95px;width:198.60px;height:52.20px;background:#e2f0d9;"></div><div class="r" style="left:1815.20px;top:1124.95px;width:196.60px;height:52.20px;background:linear-gradient(90deg,#f0f7eb,#f3f8ee);"></div><div class="t " style="left:1713.5px;top:1157.05px;font-size:23px;color:#474747;font-weight:normal;transform:translate(-50%,-50%);">農業科學</div><div class="t " style="left:1997.5px;top:1152.95px;font-size:23px;color:#474747;font-weight:normal;transform:translate(-100%,-50%);">45人(1.9%)</div><div class="r" style="left:1614.20px;top:1179.30px;width:198.60px;height:52.20px;background:#e2f0d9;"></div><div class="r" style="left:1815.20px;top:1179.30px;width:196.60px;height:52.20px;background:linear-gradient(90deg,#f0f7eb,#f3f8ee);"></div><div class="t " style="left:1713.5px;top:1211.4px;font-size:23px;color:#474747;font-weight:normal;transform:translate(-50%,-50%);">其他</div><div class="t " style="left:1997.5px;top:1207.3000000000002px;font-size:23px;color:#474747;font-weight:normal;transform:translate(-100%,-50%);">9人(0.3%)</div><div class="r" style="left:1537.20px;top:527.10px;width:74.40px;height:215.25px;background:#ffe6e6;"></div><div class="r" style="left:1537.20px;top:744.50px;width:74.40px;height:323.95px;background:#c7ecfd;"></div><div class="r" style="left:1537.20px;top:1070.60px;width:74.40px;height:160.90px;background:#e2f0d9;"></div><div class="r" style="left:1537.20px;top:1233.65px;width:275.60px;height:52.20px;background:#d9d9d9;"></div><div class="r" style="left:1815.20px;top:1233.65px;width:196.60px;height:52.20px;background:#ececec;"></div><div class="t " style="left:1675px;top:1264.05px;font-size:23px;color:#474747;font-weight:normal;transform:translate(-50%,-50%);">服務</div><div class="t " style="left:1997.5px;top:1261.65px;font-size:23px;color:#474747;font-weight:normal;transform:translate(-100%,-50%);">11人(0.4%)</div><div class="t " style="left:1574.7px;top:639.3px;font-size:21px;color:#474747;font-weight:normal;transform:translate(-50%,-50%);line-height:33.5px;">人文<br>社會<br>及<br>商管</div><div class="t " style="left:1574.7px;top:912px;font-size:21px;color:#474747;font-weight:normal;transform:translate(-50%,-50%);line-height:33.3px;">自然<br>科學<br>及<br>工程</div><div class="t " style="left:1574.7px;top:1156.7px;font-size:21px;color:#474747;font-weight:normal;transform:translate(-50%,-50%);">醫農</div><div class="t " style="left:1534.5px;top:1314.8px;font-size:17px;color:#843c0c;font-weight:normal;transform:translate(0,-50%);font-family:'Liberation Serif',serif;letter-spacing:1.33px;">註：本表將10人以下的學門列入各大領域的其他(如無則省略)。</div><svg width="2136" height="1432" viewBox="0 0 2136 1432"><rect x="448.4" y="901.6" width="216.1" height="163.4" rx="2" fill="none" stroke="#ff0000" stroke-width="2.8" stroke-dasharray="2.8 2"/><rect x="739.5" y="1019.5" width="706.5" height="111.7" rx="2.5" fill="none" stroke="#ff0000" stroke-width="3" stroke-dasharray="3 3.2"/></svg></div></body></html>
